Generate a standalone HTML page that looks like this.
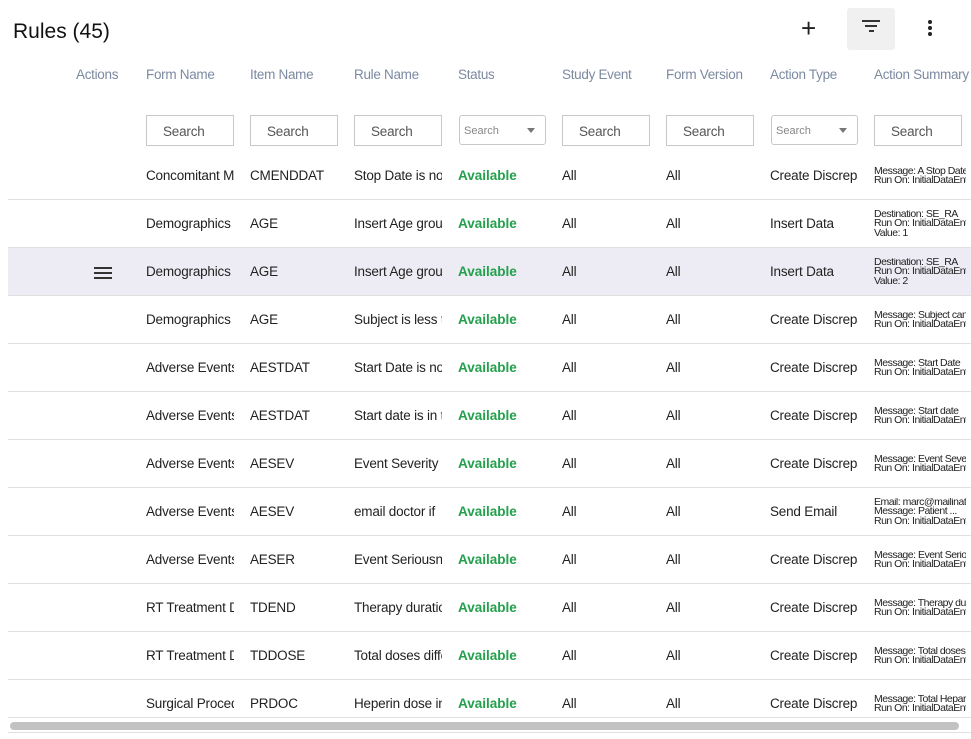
<!DOCTYPE html>
<html><head><meta charset="utf-8"><style>
*{margin:0;padding:0;box-sizing:border-box}
body{width:971px;height:739px;overflow:hidden;background:#fff;font-family:"Liberation Sans",sans-serif;position:relative;color:#222}
.a{position:absolute;white-space:nowrap;overflow:hidden}
.t{font-size:21px;left:13px;top:20px;color:#111}
.h{font-size:13.5px;color:#7b8aa1;top:67px;letter-spacing:-0.3px}
.in{position:absolute;top:115px;width:88px;height:31px;border:1px solid #c8c8c8;font-size:13.5px;color:#555;padding:8px 0 0 16px;letter-spacing:-0.2px}
.sel{position:absolute;top:115px;width:87px;height:30px;border:1px solid #c8c8c8;border-radius:3px;font-size:11px;color:#888;padding:9px 0 0 4px}
.sel:after{content:"";position:absolute;right:10px;top:12px;border-left:4px solid transparent;border-right:4px solid transparent;border-top:5px solid #777}
.c{font-size:13.5px;width:88px;letter-spacing:-0.2px;color:#222}
.g{color:#22a04b;font-weight:bold;letter-spacing:0}
.s{font-size:10.5px;line-height:9.5px;width:92px;letter-spacing:-0.5px;color:#222}
.ln{position:absolute;left:8px;width:963px;height:1px;background:#e0e0e0}
</style></head><body>
<div class="a t">Rules (45)</div>
<div class="a" style="left:801px;top:15px;font-size:26px;line-height:26px;color:#222">+</div>
<div class="a" style="left:847px;top:8px;width:48px;height:42px;background:#f0f0f0;border-radius:3px"></div>
<div class="a" style="left:862px;top:20px;width:18px;height:2px;background:#333"></div>
<div class="a" style="left:865px;top:25px;width:12px;height:2px;background:#333"></div>
<div class="a" style="left:869px;top:30px;width:5px;height:2px;background:#333"></div>
<div class="a" style="left:928px;top:20px;width:4px;height:4px;border-radius:2px;background:#222"></div>
<div class="a" style="left:928px;top:26px;width:4px;height:4px;border-radius:2px;background:#222"></div>
<div class="a" style="left:928px;top:32px;width:4px;height:4px;border-radius:2px;background:#222"></div>

<div class="a h" style="left:76px">Actions</div>
<div class="a h" style="left:146px">Form Name</div>
<div class="a h" style="left:250px">Item Name</div>
<div class="a h" style="left:354px">Rule Name</div>
<div class="a h" style="left:458px">Status</div>
<div class="a h" style="left:562px">Study Event</div>
<div class="a h" style="left:666px">Form Version</div>
<div class="a h" style="left:770px">Action Type</div>
<div class="a h" style="left:874px">Action Summary</div>

<div class="in" style="left:146px">Search</div>
<div class="in" style="left:250px">Search</div>
<div class="in" style="left:354px">Search</div>
<div class="sel" style="left:459px">Search</div>
<div class="in" style="left:562px">Search</div>
<div class="in" style="left:666px">Search</div>
<div class="sel" style="left:771px">Search</div>
<div class="in" style="left:874px">Search</div>

<div class="a" style="left:8px;top:248px;width:963px;height:47px;background:#edecf4"></div>
<div class="a" style="left:94px;top:267px;width:18px;height:2px;background:#333"></div>
<div class="a" style="left:94px;top:272px;width:18px;height:2px;background:#333"></div>
<div class="a" style="left:94px;top:277px;width:18px;height:2px;background:#333"></div>

<div id="rows"></div>
<script>
var R=[["Concomitant Medications","CMENDDAT","Stop Date is not","Create Discrepancy",["Message: A Stop Date","Run On: InitialDataEntry"]],
["Demographics","AGE","Insert Age group","Insert Data",["Destination: SE_RA","Run On: InitialDataEntry","Value: 1"]],
["Demographics","AGE","Insert Age group","Insert Data",["Destination: SE_RA","Run On: InitialDataEntry","Value: 2"]],
["Demographics","AGE","Subject is less than","Create Discrepancy",["Message: Subject can","Run On: InitialDataEntry"]],
["Adverse Events","AESTDAT","Start Date is not","Create Discrepancy",["Message: Start Date","Run On: InitialDataEntry"]],
["Adverse Events","AESTDAT","Start date is in the","Create Discrepancy",["Message: Start date","Run On: InitialDataEntry"]],
["Adverse Events","AESEV","Event Severity is","Create Discrepancy",["Message: Event Severity","Run On: InitialDataEntry"]],
["Adverse Events","AESEV","email doctor if","Send Email",["Email: marc@mailinator","Message: Patient ...","Run On: InitialDataEntry"]],
["Adverse Events","AESER","Event Seriousness","Create Discrepancy",["Message: Event Serious","Run On: InitialDataEntry"]],
["RT Treatment Dose","TDEND","Therapy duration","Create Discrepancy",["Message: Therapy dur","Run On: InitialDataEntry"]],
["RT Treatment Dose","TDDOSE","Total doses differ","Create Discrepancy",["Message: Total doses","Run On: InitialDataEntry"]],
["Surgical Procedure","PRDOC","Heperin dose in","Create Discrepancy",["Message: Total Heparin","Run On: InitialDataEntry"]]];
var h="";
R.forEach(function(r,i){var cy=176+48*i,ty=cy-8;
h+='<div class="a c" style="left:146px;top:'+ty+'px">'+r[0]+'</div>';
h+='<div class="a c" style="left:250px;top:'+ty+'px">'+r[1]+'</div>';
h+='<div class="a c" style="left:354px;top:'+ty+'px">'+r[2]+'</div>';
h+='<div class="a c g" style="left:458px;top:'+ty+'px">Available</div>';
h+='<div class="a c" style="left:562px;top:'+ty+'px">All</div>';
h+='<div class="a c" style="left:666px;top:'+ty+'px">All</div>';
h+='<div class="a c" style="left:770px;top:'+ty+'px">'+r[3]+'</div>';
var n=r[4].length;
h+='<div class="a s" style="left:874px;top:'+(cy-n*4.75)+'px">'+r[4].join('<br>')+'</div>';
if(i<11)h+='<div class="ln" style="top:'+(199+48*i)+'px"></div>';
});
document.getElementById("rows").innerHTML=h;
</script>
<div class="a" style="left:0;top:717px;width:971px;height:22px;background:#fff"></div>
<div class="ln" style="top:717px"></div>
<div class="a" style="left:10px;top:722px;width:949px;height:8px;border-radius:4px;background:#c2c2c2"></div>
<div class="ln" style="top:732px"></div>
</body></html>
